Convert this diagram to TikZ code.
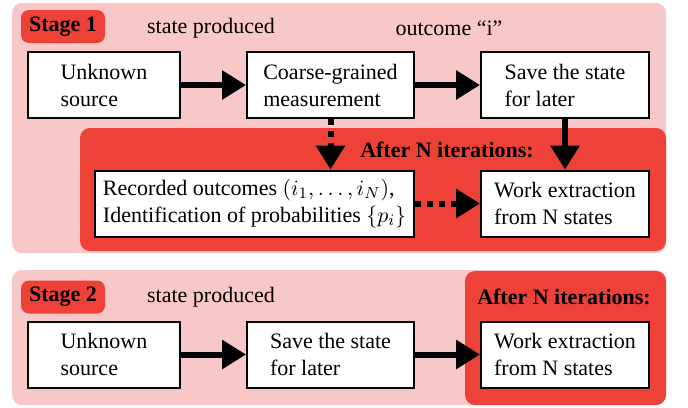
\documentclass[tikz,border=0pt]{standalone}
\usepackage{fontspec}
\setmainfont{Liberation Serif}
\usetikzlibrary{arrows.meta}
\definecolor{stagePink}{RGB}{248,200,200}
\definecolor{stageRed}{RGB}{238,66,56}

\begin{document}
\begin{tikzpicture}[x=0.5pt,y=-0.5pt,font=\fontsize{11}{13.5}\selectfont,
    stepBox/.style={draw,fill=white,line width=1pt,align=left,
        minimum height=33pt,inner sep=0pt},
    stageTag/.style={fill=stageRed,rounded corners=4pt,font=\fontsize{11}{13.5}\selectfont\bfseries,
        minimum width=42pt,minimum height=16.5pt,inner sep=0pt},
    boldNote/.style={font=\fontsize{11}{13.5}\selectfont\bfseries},
    bigArrow/.style={line width=3pt,-{Triangle[length=12pt,width=14pt]}},
    dotArrow/.style={bigArrow,dash pattern=on 3pt off 3pt}]
    \useasboundingbox (0,0) rectangle (688,407);

    \fill[stagePink,rounded corners=5pt] (12,3) rectangle (666,253);
    \fill[stageRed,rounded corners=5pt] (80,128) rectangle (666,251);
    \fill[stagePink,rounded corners=5pt] (12,270) rectangle (666,405);
    \fill[stageRed,rounded corners=5pt] (465,271) rectangle (666,405);

    \node[stageTag] (tag1) at (63,26.5) {Stage 1};
    \node (prod1) at (211,28) {state produced};
    \node (outc) at (449,28) {outcome “i”};
    \node[stepBox,minimum width=76pt] (src1) at (104,85) {Unknown\\source};
    \node[stepBox,minimum width=83.5pt] (meas) at (330.5,85) {Coarse-grained\\measurement};
    \node[stepBox,minimum width=84pt] (save1) at (565,85) {Save the state\\for later};
    \node[boldNote] (iter1) at (447,150) {After N iterations:};
    \node[stepBox,minimum width=159.5pt] (rec) at (254.5,203.5)
        {Recorded outcomes $(i_1,\ldots,i_N)$,\\Identification of probabilities $\{p_i\}$};
    \node[stepBox,minimum width=84pt] (work1) at (565,203.5) {Work extraction\\from N states};

    \draw[bigArrow] (src1) -- (meas);
    \draw[bigArrow] (meas) -- (save1);
    \draw[bigArrow] (save1) -- (work1);
    \draw[dotArrow] (meas.south) -- (meas.south |- rec.north);
    \draw[dotArrow] (rec) -- (work1);

    \node[stageTag] (tag2) at (63,297) {Stage 2};
    \node (prod2) at (211,297) {state produced};
    \node[boldNote] (iter2) at (564,297) {After N iterations:};
    \node[stepBox,minimum width=76pt] (src2) at (104,354.5) {Unknown\\source};
    \node[stepBox,minimum width=83.5pt] (save2) at (330.5,354.5) {Save the state\\for later};
    \node[stepBox,minimum width=84pt] (work2) at (565,354.5) {Work extraction\\from N states};

    \draw[bigArrow] (src2) -- (save2);
    \draw[bigArrow] (save2) -- (work2);
\end{tikzpicture}
\end{document}
